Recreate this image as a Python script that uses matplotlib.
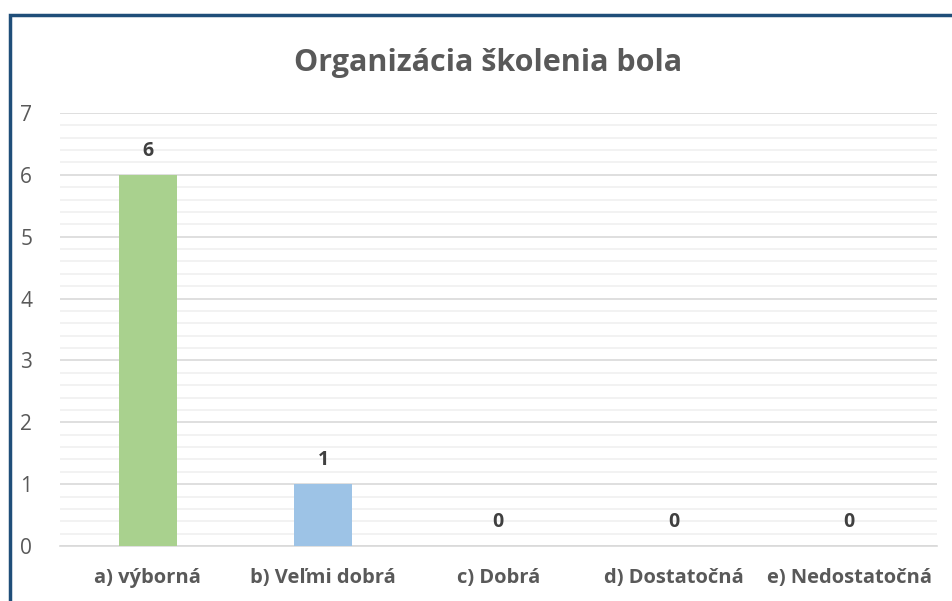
import matplotlib.pyplot as plt
from matplotlib.patches import Rectangle
from matplotlib.ticker import MultipleLocator

# data
categories = ["a) výborná", "b) Veľmi dobrá", "c) Dobrá", "d) Dostatočná", "e) Nedostatočná"]
values = [6, 1, 0, 0, 0]
bar_colors = ["#A9D18E", "#9DC3E6", "#F4B183", "#FFD966", "#C9C9C9"]

plt.rcParams["font.family"] = ["Open Sans", "DejaVu Sans"]

fig = plt.figure(figsize=(9.52, 6.01), dpi=100)
ax = fig.add_axes([0.063, 0.0915, 0.921, 0.7205])

x = range(len(categories))
ax.bar(x, values, width=0.33, color=bar_colors, zorder=3)

for i, v in enumerate(values):
    ax.annotate(str(v), (i, v), xytext=(0, 10), textcoords="offset points",
                ha="center", va="bottom", fontsize=14, fontweight="bold", color="#404040")

ax.set_xlim(-0.5, len(categories) - 0.5)
ax.set_ylim(0, 7)
ax.yaxis.set_major_locator(MultipleLocator(1))
ax.yaxis.set_minor_locator(MultipleLocator(0.2))
ax.grid(which="major", axis="y", color="#D9D9D9", linewidth=1.2, zorder=0)
ax.grid(which="minor", axis="y", color="#F0F0F0", linewidth=1.2, zorder=0)

ax.set_xticks(list(x))
ax.set_xticklabels(categories, fontsize=14.5, fontweight="bold", color="#595959")
ax.tick_params(axis="x", length=0, pad=16)
ax.tick_params(axis="y", which="both", length=0, labelsize=15, labelcolor="#595959", pad=20)

for s in ["top", "right", "left"]:
    ax.spines[s].set_visible(False)
ax.spines["bottom"].set_color("#D9D9D9")
ax.spines["bottom"].set_linewidth(1.2)

fig.text(0.513, 0.895, "Organizácia školenia bola", ha="center", va="center",
         fontsize=22, fontweight="bold", color="#595959")

# dark blue frame (only left and top edges visible in the crop)
frame = Rectangle((10 / 952, -0.2), 1.2, (601 - 15) / 601 + 0.2, transform=fig.transFigure,
                  fill=False, edgecolor="#1F4E79", linewidth=2.5, clip_on=False)
fig.patches.append(frame)

fig.savefig("out.png", dpi=100)
